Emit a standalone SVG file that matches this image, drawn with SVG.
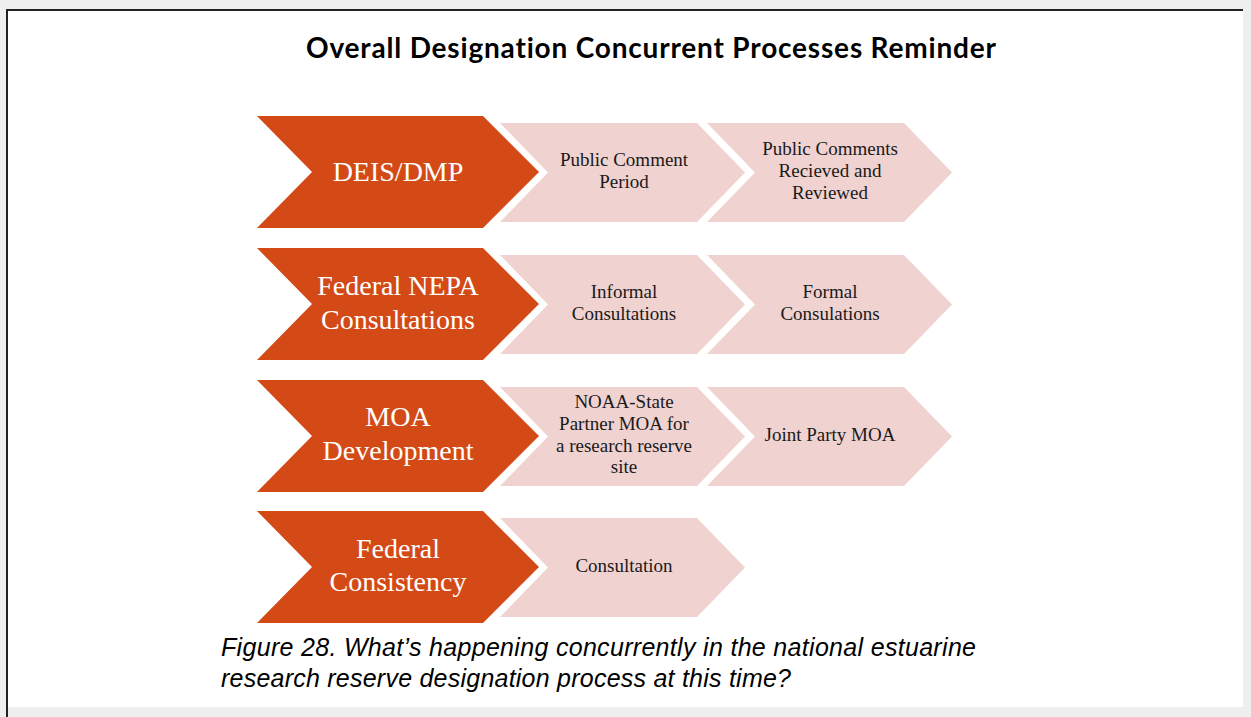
<svg xmlns="http://www.w3.org/2000/svg" width="1251" height="717" viewBox="0 0 1251 717">
<style>
.bg{fill:#efefef}
.page{fill:#fff}
.edge{stroke:#222;stroke-width:2;fill:none}
.main{fill:#D34A17}
.sub{fill:#F0D2D0}
.mt{font-family:"Liberation Serif",serif;font-size:28px;fill:#fff;text-anchor:middle}
.st{font-family:"Liberation Serif",serif;font-size:19px;fill:#1a1a1a;text-anchor:middle}
.title{font-family:Lato,"Liberation Sans",sans-serif;font-weight:bold;font-size:28px;fill:#000;text-anchor:middle;font-variant-ligatures:none}
.cap{font-family:"Liberation Sans",sans-serif;font-style:italic;font-size:25px;fill:#000}
</style>
<defs>
<polygon id="big" points="0,0 226,0 282,56 226,112 0,112 55,56"/>
<polygon id="small" points="0,0 197,0 245,49.5 197,99 0,99 48,49.5"/>
</defs>
<rect class="bg" x="0" y="0" width="1251" height="717"/>
<rect class="page" x="7" y="10" width="1236" height="697"/>
<path class="edge" d="M7,717 V10 H1243"/>
<text class="title" x="651" y="58" textLength="690">Overall Designation Concurrent Processes Reminder</text>
<g id="row1-main"><use href="#big" class="main" x="257" y="116"/><text class="mt" x="398" y="181">DEIS/DMP</text></g>
<g id="row1-a"><use href="#small" class="sub" x="500" y="123"/><text class="st" x="624" y="166">Public Comment</text><text class="st" x="624" y="188">Period</text></g>
<g id="row1-b"><use href="#small" class="sub" x="707" y="123"/><text class="st" x="830" y="155">Public Comments</text><text class="st" x="830" y="177">Recieved and</text><text class="st" x="830" y="199">Reviewed</text></g>
<g id="row2-main"><use href="#big" class="main" x="257" y="248"/><text class="mt" x="398" y="295">Federal NEPA</text><text class="mt" x="398" y="329">Consultations</text></g>
<g id="row2-a"><use href="#small" class="sub" x="500" y="255"/><text class="st" x="624" y="298">Informal</text><text class="st" x="624" y="320">Consultations</text></g>
<g id="row2-b"><use href="#small" class="sub" x="707" y="255"/><text class="st" x="830" y="298">Formal</text><text class="st" x="830" y="320">Consulations</text></g>
<g id="row3-main"><use href="#big" class="main" x="257" y="380"/><text class="mt" x="398" y="426">MOA</text><text class="mt" x="398" y="460">Development</text></g>
<g id="row3-a"><use href="#small" class="sub" x="500" y="387"/><text class="st" x="624" y="408">NOAA-State</text><text class="st" x="624" y="430">Partner MOA for</text><text class="st" x="624" y="452">a research reserve</text><text class="st" x="624" y="473">site</text></g>
<g id="row3-b"><use href="#small" class="sub" x="707" y="387"/><text class="st" x="830" y="441">Joint Party MOA</text></g>
<g id="row4-main"><use href="#big" class="main" x="257" y="511"/><text class="mt" x="398" y="558">Federal</text><text class="mt" x="398" y="591">Consistency</text></g>
<g id="row4-a"><use href="#small" class="sub" x="500" y="518"/><text class="st" x="624" y="572">Consultation</text></g>
<text class="cap" x="221" y="656" textLength="755">Figure 28. What’s happening concurrently in the national estuarine</text>
<text class="cap" x="221" y="687" textLength="570">research reserve designation process at this time?</text>
</svg>
